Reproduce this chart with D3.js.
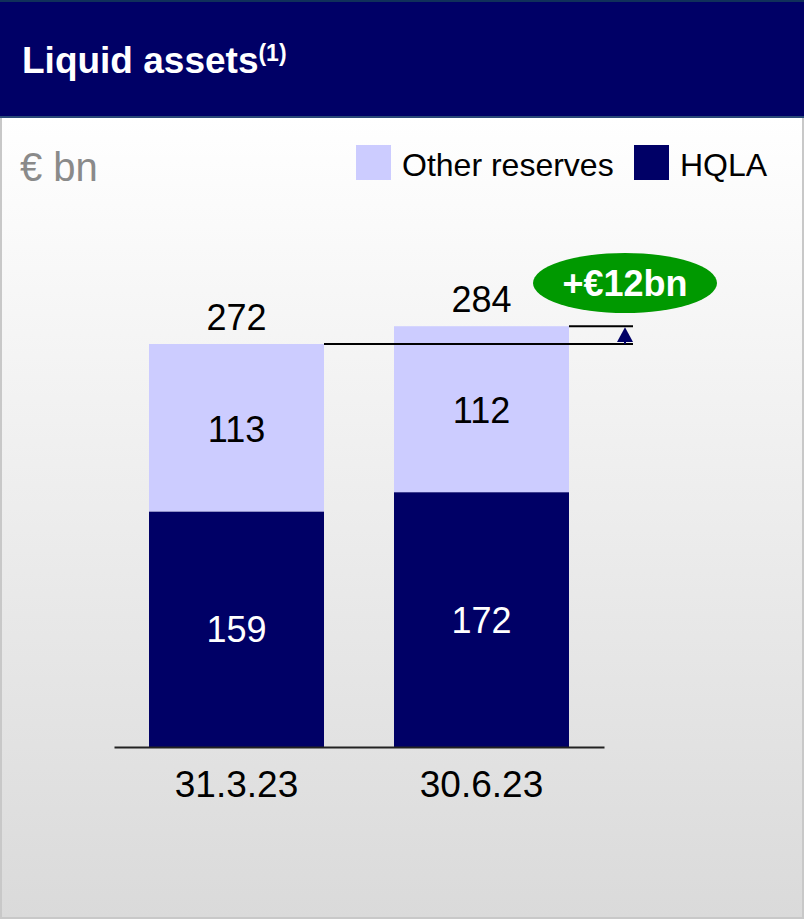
<!DOCTYPE html>
<html>
<head>
<meta charset="utf-8">
<script src="https://cdn.jsdelivr.net/npm/d3@7"></script>
<style>
  html, body { margin: 0; padding: 0; background: #fff; }
  svg { display: block; }
  text { font-family: "Liberation Sans", Arial, sans-serif; }
</style>
</head>
<body>
<script>
// ---- Data ----
const categories = ["31.3.23", "30.6.23"];
const hqla = [159, 172];
const otherReserves = [113, 112];
const totals = [272, 284];
const seriesNames = ["Other reserves", "HQLA"];
const changeLabel = "+€12bn";
const unitLabel = "€ bn";
const titleText = "Liquid assets";
const titleNote = "(1)";

// ---- Setup ----
const W = 804, H = 919;
const NAVY = "#000066", LIGHT = "#ccccff", GREEN = "#009900";

const svg = d3.select("body").append("svg").attr("width", W).attr("height", H);

const defs = svg.append("defs");
const grad = defs.append("linearGradient").attr("id", "bg")
  .attr("x1", 0).attr("y1", 0).attr("x2", 0).attr("y2", 1);
grad.append("stop").attr("offset", "0%").attr("stop-color", "#ffffff");
grad.append("stop").attr("offset", "100%").attr("stop-color", "#dadada");

// body background
svg.append("rect").attr("x", 1).attr("y", 117).attr("width", W - 2).attr("height", H - 118)
  .attr("fill", "url(#bg)").attr("stroke", "#c8c8c8").attr("stroke-width", 2);

// header
svg.append("rect").attr("x", 0).attr("y", 0).attr("width", W).attr("height", 118).attr("fill", NAVY);
svg.append("line").attr("x1", 0).attr("x2", W).attr("y1", 1).attr("y2", 1)
  .attr("stroke", "#10305a").attr("stroke-width", 2);
svg.append("line").attr("x1", 0).attr("x2", W).attr("y1", 117).attr("y2", 117)
  .attr("stroke", "#2a4a78").attr("stroke-width", 2);

const title = svg.append("text").attr("x", 22).attr("y", 73)
  .attr("fill", "#fff").attr("font-weight", "bold").attr("font-size", 37);
title.append("tspan").text(titleText);
title.append("tspan").attr("font-size", 23).attr("dy", -12).text(titleNote);

// unit label
svg.append("text").attr("x", 20).attr("y", 181).attr("fill", "#8a8a8a")
  .attr("font-size", 40).text(unitLabel);

// legend
const legendItems = [
  {name: seriesNames[0], color: LIGHT, x: 356, tx: 402},
  {name: seriesNames[1], color: NAVY, x: 634, tx: 680}
];
const lg = svg.append("g");
legendItems.forEach(d => {
  lg.append("rect").attr("x", d.x).attr("y", 145).attr("width", 35).attr("height", 35).attr("fill", d.color);
  lg.append("text").attr("x", d.tx).attr("y", 176).attr("font-size", 32).attr("fill", "#000").text(d.name);
});

// ---- Scales ----
const x = d3.scaleBand().domain(categories).range([114, 604]).paddingInner(0.2857).paddingOuter(0.1429);
const y = d3.scaleLinear().domain([0, 300]).range([747, 747 - 300 * (403 / 272)]);

const data = categories.map((c, i) => ({cat: c, hqla: hqla[i], other: otherReserves[i], total: totals[i]}));

// bars
const g = svg.append("g");
g.selectAll("rect.hqla").data(data).join("rect").attr("class", "hqla")
  .attr("x", d => x(d.cat)).attr("width", x.bandwidth())
  .attr("y", d => y(d.hqla)).attr("height", d => y(0) - y(d.hqla)).attr("fill", NAVY);
g.selectAll("rect.other").data(data).join("rect").attr("class", "other")
  .attr("x", d => x(d.cat)).attr("width", x.bandwidth())
  .attr("y", d => y(d.hqla + d.other)).attr("height", d => y(d.hqla) - y(d.hqla + d.other)).attr("fill", LIGHT);

// segment labels
g.selectAll("text.hl").data(data).join("text").attr("class", "hl")
  .attr("x", d => x(d.cat) + x.bandwidth() / 2)
  .attr("y", d => (y(0) + y(d.hqla)) / 2 + 13)
  .attr("text-anchor", "middle").attr("font-size", 36).attr("fill", "#fff").text(d => d.hqla);
g.selectAll("text.ol").data(data).join("text").attr("class", "ol")
  .attr("x", d => x(d.cat) + x.bandwidth() / 2)
  .attr("y", d => (y(d.hqla) + y(d.hqla + d.other)) / 2 + 14)
  .attr("text-anchor", "middle").attr("font-size", 36).attr("fill", "#000").text(d => d.other);
g.selectAll("text.tl").data(data).join("text").attr("class", "tl")
  .attr("x", d => x(d.cat) + x.bandwidth() / 2)
  .attr("y", d => y(d.total) - 14)
  .attr("text-anchor", "middle").attr("font-size", 36).attr("fill", "#000").text(d => d.total);

// axis baseline
const axis = d3.axisBottom(x).tickSize(0).tickPadding(0);
const ax = svg.append("g").attr("transform", `translate(0,${y(0)})`).call(axis);
ax.select(".domain").attr("stroke", "#222").attr("stroke-width", 2);
ax.selectAll(".tick text").attr("font-size", 37).attr("fill", "#000")
  .attr("font-family", "\"Liberation Sans\", Arial, sans-serif").attr("dy", 0).attr("y", 50);

// ---- Change annotation ----
const x0 = x(categories[0]) + x.bandwidth();
const x1 = x(categories[1]) + x.bandwidth();
const ax2 = 633, arrowX = 625;
const yA = y(totals[0]), yB = y(totals[1]);
svg.append("line").attr("x1", x0).attr("x2", ax2).attr("y1", yA).attr("y2", yA).attr("stroke", "#000").attr("stroke-width", 2);
svg.append("line").attr("x1", x1).attr("x2", ax2).attr("y1", yB).attr("y2", yB).attr("stroke", "#000").attr("stroke-width", 2);
svg.append("line").attr("x1", arrowX).attr("x2", arrowX).attr("y1", yA).attr("y2", yB + 6).attr("stroke", NAVY).attr("stroke-width", 2);
svg.append("path")
  .attr("d", `M${arrowX},${yB + 1} L${arrowX - 8},${yA - 2} L${arrowX + 8},${yA - 2} Z`)
  .attr("fill", NAVY);

svg.append("ellipse").attr("cx", 625).attr("cy", 283).attr("rx", 92).attr("ry", 30).attr("fill", GREEN);
svg.append("text").attr("x", 625).attr("y", 296).attr("text-anchor", "middle")
  .attr("font-size", 36).attr("font-weight", "bold").attr("fill", "#fff").text(changeLabel);
</script>
</body>
</html>
